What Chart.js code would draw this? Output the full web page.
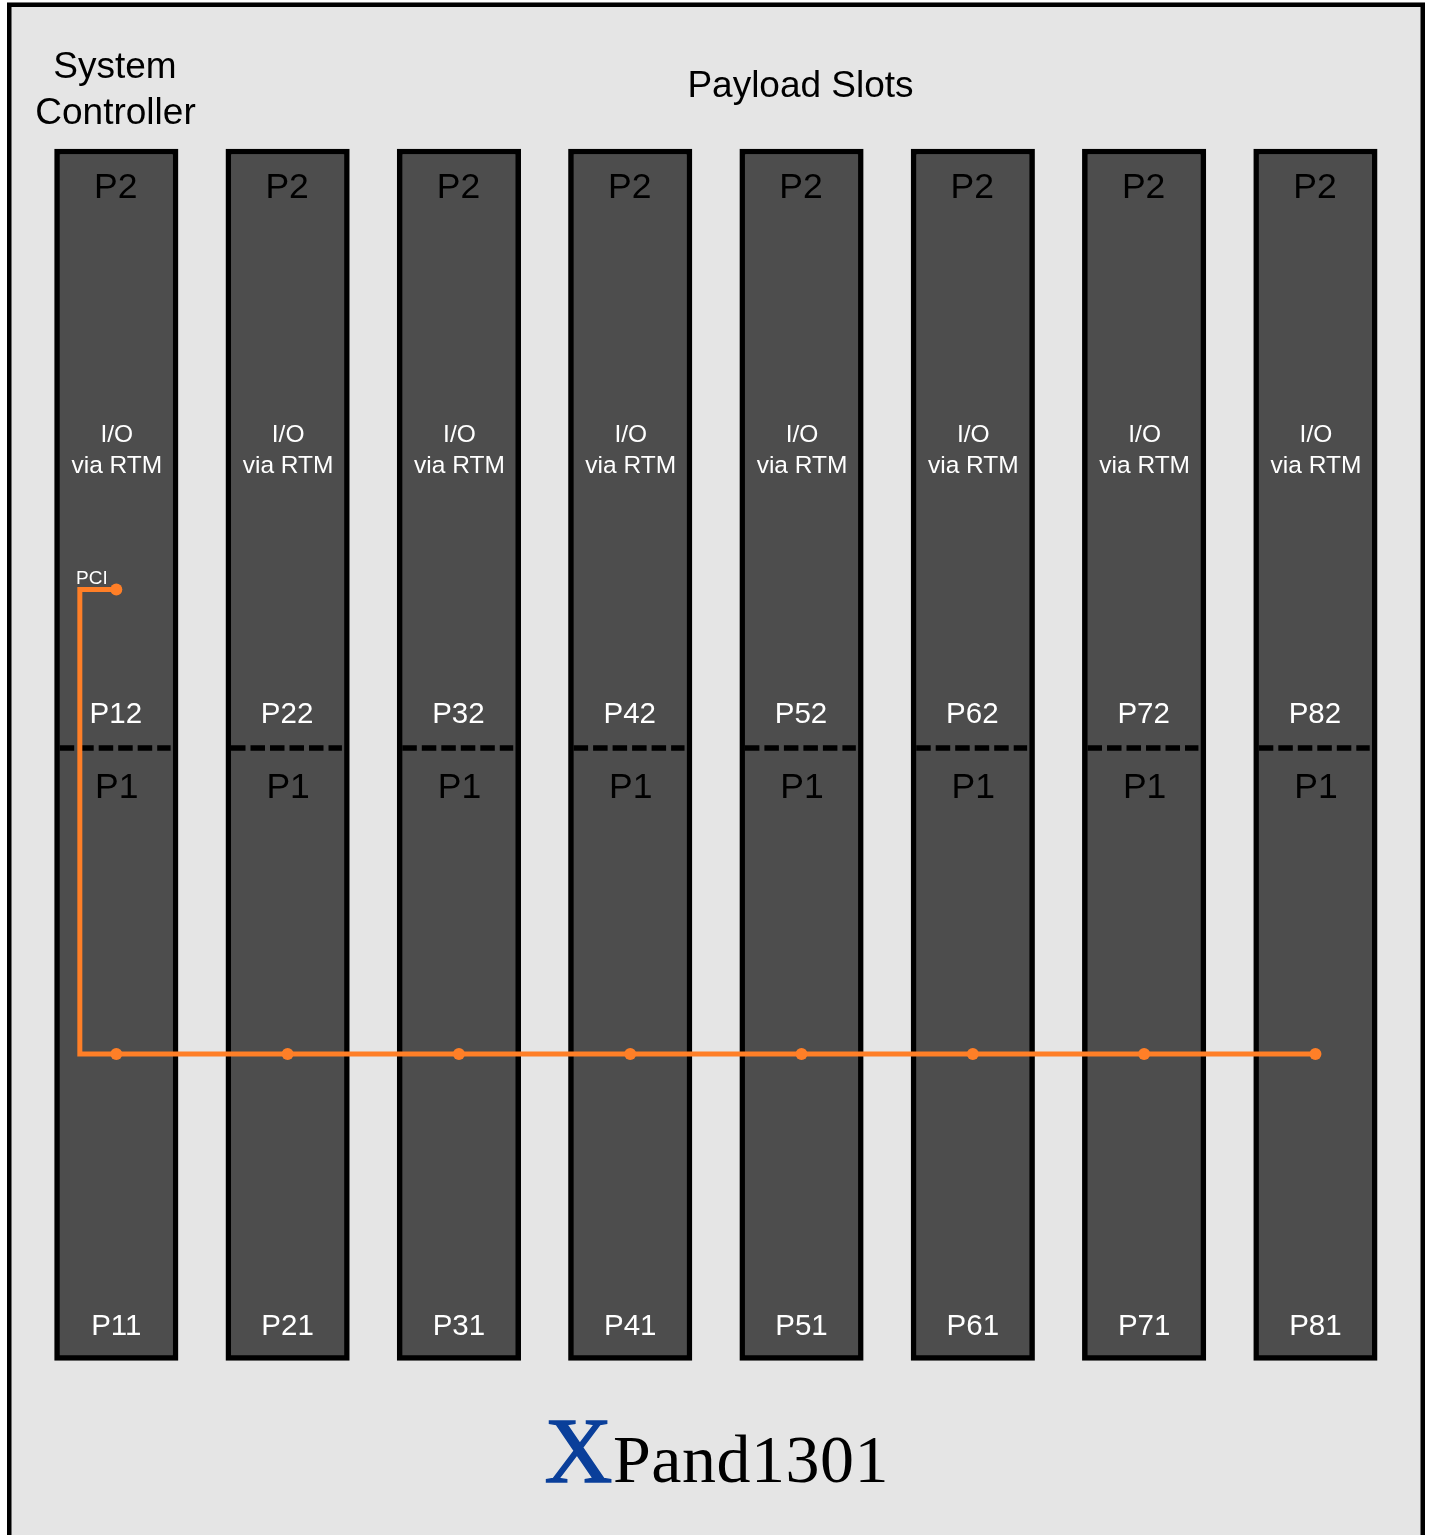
<!DOCTYPE html>
<html>
<head>
<meta charset="utf-8">
<style>html,body{margin:0;padding:0;background:#fff}canvas{display:block}</style>
<script src="https://cdn.jsdelivr.net/npm/chart.js@4"></script>
</head>
<body>
<canvas id="c" width="1429" height="1535"></canvas>
<script>
const slots = [1,2,3,4,5,6,7,8];
const upperLabels = ["P12","P22","P32","P42","P52","P62","P72","P82"];
const lowerLabels = ["P11","P21","P31","P41","P51","P61","P71","P81"];
const slotTop = 149, slotBottom = 1360.5, dividerRow = 748;
const busRow = 1054, pciRow = 589.5, busTrunkSlot = 0.787;
const dividerStart = -0.3305, dividerEnd = 0.317;
const ORANGE = "#ff7f27";
const SANS = '"Liberation Sans", Arial, sans-serif';
const SERIF = '"Liberation Serif", "Times New Roman", serif';

const textPlugin = {
  id: "diagramText",
  beforeDraw(chart) {
    const c = chart.ctx;
    c.save();
    c.fillStyle = "#e5e5e5";
    c.fillRect(7, 2.5, 1418, 1540);
    c.strokeStyle = "#000";
    c.lineWidth = 4.5;
    c.strokeRect(9.25, 4.75, 1413.5, 1560);
    c.restore();
  },
  afterDraw(chart) {
    const c = chart.ctx, xs = chart.scales.x;
    const put = (t, x, y, size, color, align, font) => {
      c.font = size + "px " + (font || SANS);
      c.fillStyle = color;
      c.textAlign = align || "center";
      c.textBaseline = "alphabetic";
      c.fillText(t, x, y);
    };
    c.save();
    put("System", 115, 78, 37, "#000");
    put("Controller", 115.5, 124, 37, "#000");
    put("Payload Slots", 800.5, 97, 37, "#000");
    slots.forEach((s, i) => {
      const x = xs.getPixelForValue(s);
      put("P2", x - 0.5, 197.5, 35.5, "#000");
      put("I/O", x + 0.5, 441.5, 24.5, "#fff");
      put("via RTM", x + 0.5, 472.5, 24.5, "#fff");
      put(upperLabels[i], x - 0.5, 723, 29.5, "#fff");
      put("P1", x + 0.5, 797.5, 35.5, "#000");
      put(lowerLabels[i], x, 1335, 29.5, "#fff");
    });
    put("PCI", 76, 584, 19, "#fff", "left");
    put("X", 544.5, 1482, 94, "#0a3f9a", "left", SERIF);
    c.strokeStyle = "#0a3f9a";
    c.lineWidth = 1.5;
    c.strokeText("X", 544.5, 1482);
    c.letterSpacing = "0.5px";
    put("Pand1301", 613, 1482, 68, "#000", "left", SERIF);
    c.restore();
  }
};

new Chart(document.getElementById("c"), {
  type: "bar",
  plugins: [textPlugin],
  data: {
    datasets: [
      {
        type: "scatter", label: "Bus taps", order: 1,
        data: [{x: 1, y: pciRow}].concat(slots.map(s => ({x: s, y: busRow}))),
        pointRadius: 6, pointBackgroundColor: ORANGE, pointBorderWidth: 0, showLine: false
      },
      {
        type: "line", label: "PCI bus", order: 2,
        data: [{x: 1, y: pciRow}, {x: busTrunkSlot, y: pciRow}, {x: busTrunkSlot, y: busRow}, {x: 8, y: busRow}],
        borderColor: ORANGE, borderWidth: 5, pointRadius: 0, tension: 0,
        borderJoinStyle: "miter", borderCapStyle: "butt", fill: false
      },
      ...slots.map(s => ({
        type: "line", label: "Divider " + s, order: 3,
        data: [{x: s + dividerStart, y: dividerRow}, {x: s + dividerEnd, y: dividerRow}],
        borderColor: "#000", borderWidth: 5.5, borderDash: [14.5, 5], pointRadius: 0, fill: false
      })),
      {
        type: "bar", label: "Slots", order: 4,
        data: slots.map(s => ({x: s, y: [slotTop, slotBottom]})),
        backgroundColor: "#4d4d4d", borderColor: "#000", borderWidth: 5.5,
        borderSkipped: false, barThickness: 123.5
      }
    ]
  },
  options: {
    responsive: false, animation: false,
    layout: {padding: 0, autoPadding: false},
    plugins: {legend: {display: false}, tooltip: {enabled: false}, title: {display: false}},
    scales: {
      x: {type: "linear", display: false, offset: false, min: 0.321, max: 8.663, grid: {display: false}},
      y: {type: "linear", display: false, reverse: true, min: 0, max: 1535, grid: {display: false}}
    }
  }
});
</script>
</body>
</html>
